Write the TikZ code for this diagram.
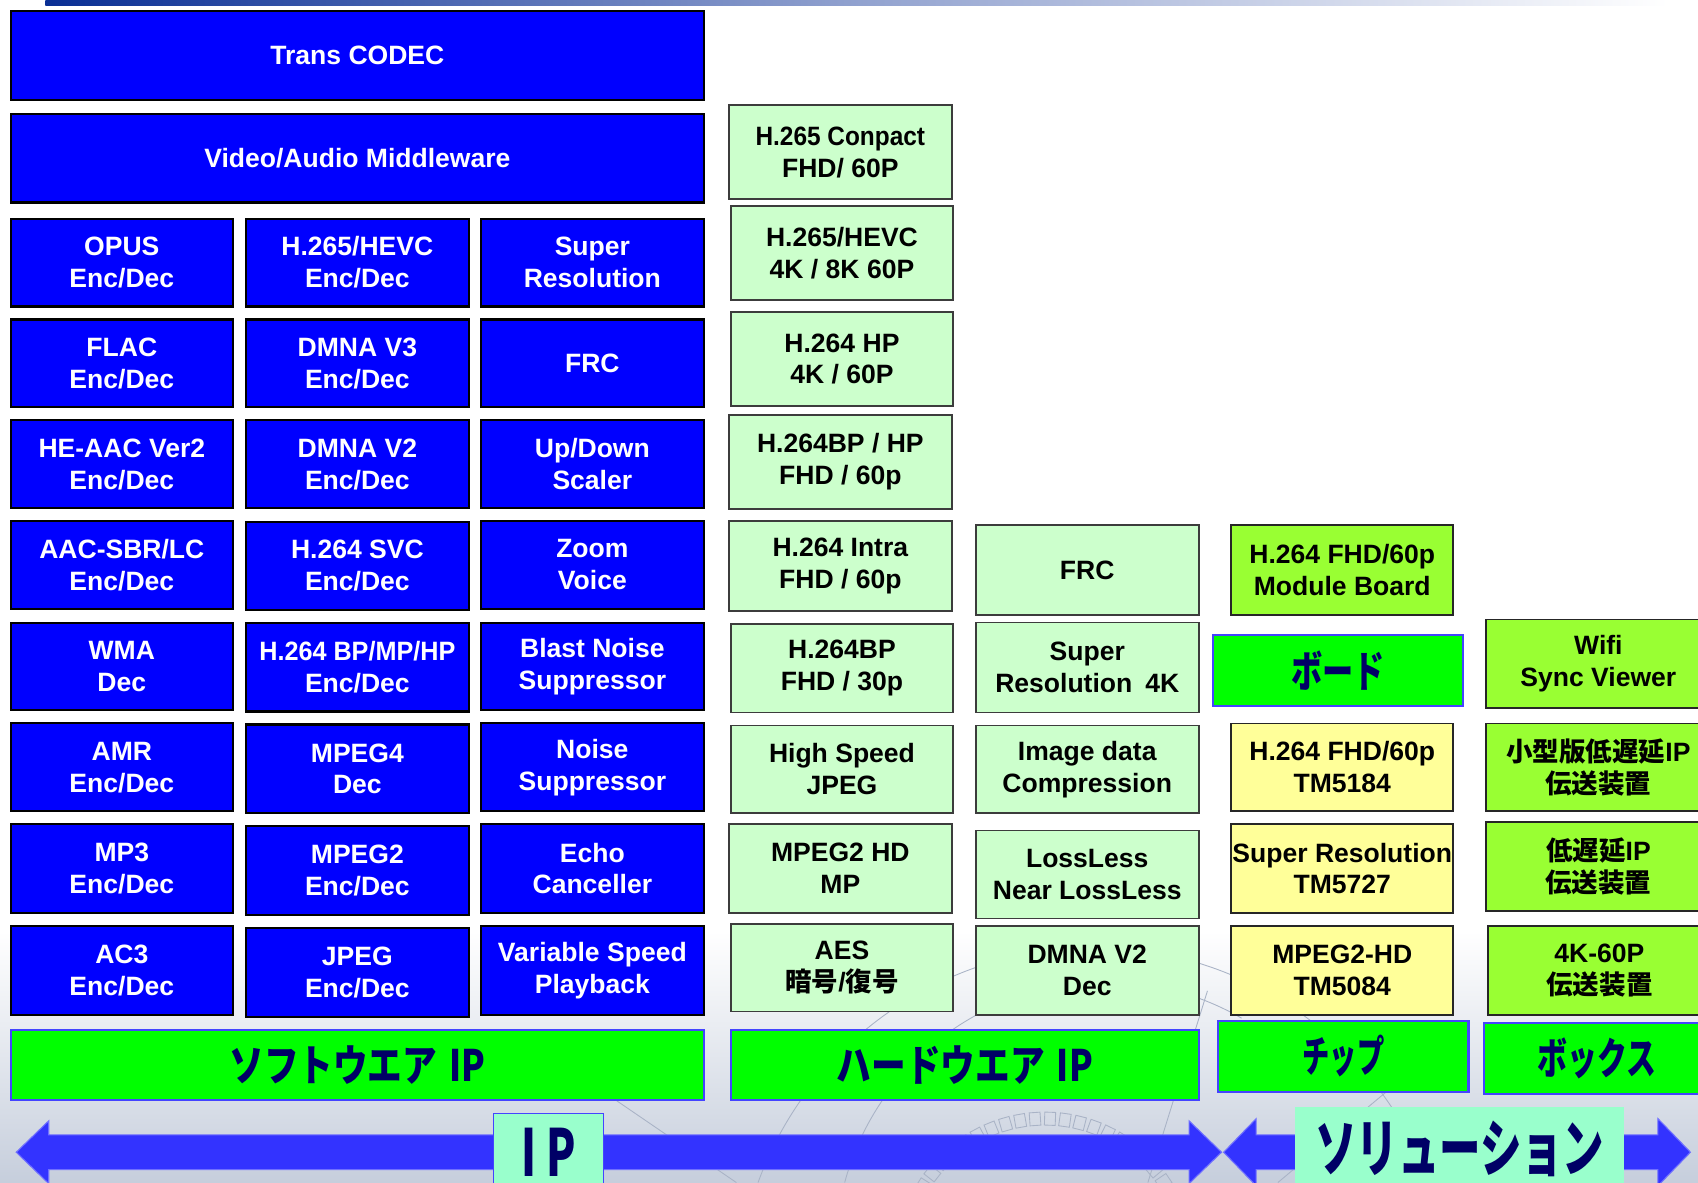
\documentclass[tikz,border=0pt]{standalone}
\usepackage{fontspec}
\usepackage{graphicx}
\usetikzlibrary{calc}
\setmainfont{Liberation Sans}
\newfontfamily\jp{Noto Sans CJK JP}
\definecolor{bbl}{HTML}{0000FF}
\definecolor{lg}{HTML}{CCFFCC}
\definecolor{lgborder}{HTML}{3C3C3C}
\definecolor{yl}{HTML}{FFFF99}
\definecolor{limeg}{HTML}{99FF33}
\definecolor{gr}{HTML}{00FF00}
\definecolor{barblue}{HTML}{4444FF}
\definecolor{navy}{HTML}{000066}
\definecolor{aqua}{HTML}{99FFCC}
\definecolor{arrowblue}{HTML}{3333FF}
\definecolor{topblue}{HTML}{0A2F94}
\definecolor{bggray}{HTML}{C6CEDC}
\definecolor{decor}{HTML}{A9B3C6}
\newcommand\jpc[2]{\scalebox{#1}[1]{\jp\bfseries #2}}
\newcommand\mybox[7]{\node[#1,minimum width={#4-#2},minimum height={#5-#3}] (#6) at ({(#2+#4)/2},{(#3+#5)/2}) {#7};}
\tikzset{
  base/.style={rectangle, inner sep=1pt, outer sep=0pt, align=center,
    font=\fontsize{24.5}{29.5}\selectfont\bfseries},
  bluebox/.style={base, fill=bbl, draw=black, line width=2pt, text=white},
  lgbox/.style={base, fill=lg, draw=lgborder, line width=1.5pt, text=black},
  ylbox/.style={base, fill=yl, draw=black!85, line width=1.5pt, text=black},
  limebox/.style={base, fill=limeg, draw=black!85, line width=1.5pt, text=black},
  gbar/.style={rectangle, inner sep=0pt, outer sep=0pt, fill=gr, draw=barblue,
    line width=2pt, text=navy, font=\fontsize{40}{44}\selectfont},
  labbox/.style={rectangle, inner sep=0pt, outer sep=0pt, fill=aqua, text=navy,
    font=\fontsize{58}{60}\selectfont},
  bigarrow/.style={fill=arrowblue, draw=arrowblue!70!white, line width=1pt},
  decoline/.style={draw=decor, line width=0.8pt},
}
\begin{document}
\begin{tikzpicture}[x=1pt,y=-1pt]
\useasboundingbox (0,0) rectangle (1568,1092);
% background
\fill[white] (0,0) rectangle (1568,1092);
\shade[top color=white, bottom color=bggray] (0,860) rectangle (1568,1092);
\shade[left color=topblue, right color=white, middle color=topblue!45!white] (42,0) rectangle (1540,5.5);
% decoration in the background
\foreach \a in {22,28,...,158} {
  \begin{scope}[shift={(965,1165)}, rotate=\a]
    \draw[decoline] (126,-5) rectangle (138,5);
  \end{scope}
}
\draw[decoline] (700,1092) arc[start angle=200, end angle=330, radius=330];
\draw[decoline] (780,1092) arc[start angle=195, end angle=300, radius=250];
\draw[decoline] (1060,1092) -- (1115,915);
\draw[decoline] (560,1010) -- (680,1092);
\draw[decoline] (1180,1092) -- (1290,1000);
% top blue boxes
\mybox{bluebox}{10}{10}{650}{92}{tc}{Trans CODEC}
\mybox{bluebox}{10}{105}{650}{187}{vam}{Video/Audio Middleware}
% column 1
\mybox{bluebox}{10}{202}{215}{283}{a1}{OPUS\\Enc/Dec}
\mybox{bluebox}{10}{295}{215}{376}{a2}{FLAC\\Enc/Dec}
\mybox{bluebox}{10}{388}{215}{469}{a3}{HE-AAC Ver2\\Enc/Dec}
\mybox{bluebox}{10}{481}{215}{562}{a4}{AAC-SBR/LC\\Enc/Dec}
\mybox{bluebox}{10}{575}{215}{656}{a5}{WMA\\Dec}
\mybox{bluebox}{10}{668}{215}{749}{a6}{AMR\\Enc/Dec}
\mybox{bluebox}{10}{761}{215}{843}{a7}{MP3\\Enc/Dec}
\mybox{bluebox}{10}{855}{215}{937}{a8}{AC3\\Enc/Dec}
% column 2
\mybox{bluebox}{227}{202}{433}{283}{b1}{H.265/HEVC\\Enc/Dec}
\mybox{bluebox}{227}{295}{433}{376}{b2}{DMNA V3\\Enc/Dec}
\mybox{bluebox}{227}{388}{433}{469}{b3}{DMNA V2\\Enc/Dec}
\mybox{bluebox}{227}{482}{433}{563}{b4}{H.264 SVC\\Enc/Dec}
\mybox{bluebox}{227}{575}{433}{657}{b5}{\scalebox{0.95}[1]{H.264 BP/MP/HP}\\Enc/Dec}
\mybox{bluebox}{227}{669}{433}{751}{b6}{MPEG4\\Dec}
\mybox{bluebox}{227}{763}{433}{845}{b7}{MPEG2\\Enc/Dec}
\mybox{bluebox}{227}{857}{433}{939}{b8}{JPEG\\Enc/Dec}
% column 3
\mybox{bluebox}{444}{202}{650}{283}{c1}{Super\\Resolution}
\mybox{bluebox}{444}{295}{650}{376}{c2}{FRC}
\mybox{bluebox}{444}{388}{650}{469}{c3}{Up/Down\\Scaler}
\mybox{bluebox}{444}{481}{650}{562}{c4}{Zoom\\Voice}
\mybox{bluebox}{444}{575}{650}{656}{c5}{Blast Noise\\Suppressor}
\mybox{bluebox}{444}{668}{650}{749}{c6}{Noise\\Suppressor}
\mybox{bluebox}{444}{761}{650}{843}{c7}{Echo\\Canceller}
\mybox{bluebox}{444}{855}{650}{937}{c8}{Variable Speed\\Playback}
% column 4
\mybox{lgbox}{673}{97}{879}{184}{h1}{\scalebox{0.92}[1]{H.265 Conpact}\\FHD/ 60P}
\mybox{lgbox}{675}{190}{880}{277}{h2}{H.265/HEVC\\4K / 8K 60P}
\mybox{lgbox}{675}{288}{880}{375}{h3}{H.264 HP\\4K / 60P}
\mybox{lgbox}{673}{383}{879}{470}{h4}{H.264BP / HP\\FHD / 60p}
\mybox{lgbox}{673}{481}{879}{564}{h5}{H.264 Intra\\FHD / 60p}
\mybox{lgbox}{675}{576}{880}{658}{h6}{H.264BP\\FHD / 30p}
\mybox{lgbox}{675}{670}{880}{751}{h7}{High Speed\\JPEG}
\mybox{lgbox}{673}{761}{879}{843}{h8}{MPEG2 HD\\MP}
\mybox{lgbox}{675}{853}{880}{934}{h9}{AES\\{\jp 暗号}/{\jp 復号}}
% column 5
\mybox{lgbox}{901}{485}{1107}{568}{g1}{FRC}
\mybox{lgbox}{901}{575}{1107}{658}{g2}{Super\\Resolution\hspace{12pt}4K}
\mybox{lgbox}{901}{670}{1107}{751}{g3}{Image data\\Compression}
\mybox{lgbox}{901}{767}{1107}{848}{g4}{LossLess\\Near LossLess}
\mybox{lgbox}{901}{855}{1107}{937}{g5}{DMNA V2\\Dec}
% column 6
\mybox{limebox}{1137}{485}{1342}{568}{m1}{H.264 FHD/60p\\Module Board}
\mybox{gbar}{1120}{586}{1351}{652}{board}{\jpc{0.72}{ボード}}
\mybox{ylbox}{1137}{668}{1342}{749}{y1}{H.264 FHD/60p\\TM5184}
\mybox{ylbox}{1137}{761}{1342}{843}{y2}{Super Resolution\\TM5727}
\mybox{ylbox}{1137}{855}{1342}{937}{y3}{MPEG2-HD\\TM5084}
\mybox{gbar}{1125}{943}{1356}{1008}{chip}{\jpc{0.63}{チップ}}
% column 7
\mybox{limebox}{1372}{572}{1580}{654}{w1}{Wifi\\Sync Viewer}
\mybox{limebox}{1372}{668}{1580}{749}{w2}{{\jp 小型版低遅延}IP\\{\jp 伝送装置}}
\mybox{limebox}{1372}{759}{1580}{841}{w3}{{\jp 低遅延}IP\\{\jp 伝送装置}}
\mybox{limebox}{1374}{855}{1580}{937}{w4}{4K-60P\\{\jp 伝送装置}}
\mybox{gbar}{1370}{945}{1580}{1010}{box}{\jpc{0.69}{ボックス}}
% category bars
\mybox{gbar}{10}{951}{650}{1016}{sw}{\jpc{0.8}{ソフトウエア\hspace{14pt}IP}}
\mybox{gbar}{675}{951}{1107}{1016}{hw}{\jpc{0.8}{ハードウエア\hspace{14pt}IP}}
% bottom arrows
\path[bigarrow] (15,1064) -- (45,1035) -- (45,1048) -- (1098,1048) -- (1098,1035)
  -- (1128,1064) -- (1098,1093) -- (1098,1080) -- (45,1080) -- (45,1093) -- cycle;
\path[bigarrow] (1130,1064) -- (1160,1033) -- (1160,1048) -- (1531,1048) -- (1531,1033)
  -- (1561,1064) -- (1531,1095) -- (1531,1080) -- (1160,1080) -- (1160,1095) -- cycle;
\mybox{labbox,draw=barblue,line width=1pt}{456}{1028}{557}{1100}{ip}{\raisebox{-4pt}{\fontsize{60}{62}\selectfont\jpc{0.66}{I\hspace{14pt}P}}}
\mybox{labbox}{1196}{1022}{1500}{1100}{sol}{\raisebox{-6pt}{\jpc{0.66}{ソリューション}}}
\end{tikzpicture}
\end{document}
